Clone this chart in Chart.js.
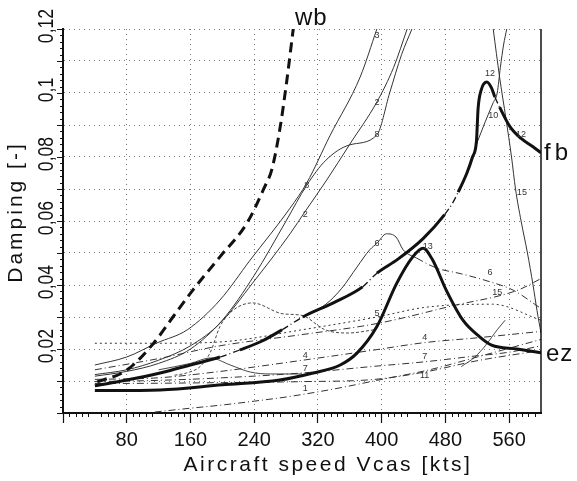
<!DOCTYPE html>
<html>
<head>
<meta charset="utf-8">
<script src="https://cdn.jsdelivr.net/npm/chart.js@4.4.0/dist/chart.umd.min.js"></script>
<style>
  html, body { margin: 0; padding: 0; background: #fff; }
</style>
</head>
<body>
<canvas id="chart" width="577" height="481"></canvas>
<script>
'use strict';

// axis labels
const xTickLabels = ['80', '160', '240', '320', '400', '480', '560'];
const yTickValues = [0.02, 0.04, 0.06, 0.08, 0.1, 0.12];
const yTickLabels = ['0,02', '0,04', '0,06', '0,08', '0,1', '0,12'];

// thick curves (speed in kts, damping)
const wbSpeed = [43, 80, 114, 138, 163, 197, 231, 253, 262, 272, 281, 289];
const wbDamp  = [0.0097, 0.0134, 0.0219, 0.030, 0.0384, 0.0488, 0.0594, 0.0706, 0.076, 0.0884, 0.104, 0.120];

const fbSpeed = [40, 80, 122, 160, 197, 222, 250, 275, 301, 340, 376, 394, 420, 452, 479, 489, 496, 507, 514, 519, 521, 525, 532, 538, 542, 548, 561, 575, 590, 600];
const fbDamp  = [0.0085, 0.0103, 0.0125, 0.015, 0.0175, 0.0197, 0.0225, 0.026, 0.030, 0.0345, 0.0394, 0.0437, 0.048, 0.0545, 0.062, 0.0656, 0.069, 0.075, 0.080, 0.085, 0.095, 0.101, 0.1034, 0.1015, 0.0988, 0.0956, 0.0895, 0.0858, 0.0832, 0.0813];

const ezSpeed = [40, 122, 200, 272, 314, 348, 369, 394, 419, 439, 452, 464, 481, 502, 523, 538, 570, 600];
const ezDamp  = [0.0070, 0.0072, 0.0088, 0.0103, 0.0125, 0.015, 0.0187, 0.027, 0.0406, 0.0488, 0.0515, 0.0478, 0.0384, 0.029, 0.0238, 0.0212, 0.0200, 0.0188];

// thin mode curves
const m3Speed = [40, 80, 118, 156, 197, 235, 285, 306, 335, 373, 394];
const m3Damp  = [0.015, 0.0175, 0.0219, 0.026, 0.0353, 0.0478, 0.064, 0.0719, 0.0866, 0.105, 0.12];

const m8Speed = [40, 80, 120, 160, 200, 240, 280, 306, 330, 360, 394, 410, 425, 438];
const m8Damp  = [0.0115, 0.013, 0.0155, 0.020, 0.029, 0.043, 0.060, 0.0712, 0.079, 0.0838, 0.0869, 0.100, 0.112, 0.12];

const m2Speed = [40, 80, 120, 160, 197, 238, 285, 304, 331, 360, 394, 415, 432];
const m2Damp  = [0.012, 0.0135, 0.0165, 0.021, 0.028, 0.0406, 0.056, 0.063, 0.0728, 0.084, 0.0972, 0.108, 0.12];

const m6Speed = [301, 330, 350, 369, 385, 394, 406, 418, 427, 444, 469, 500, 536, 565, 598];
const m6Damp  = [0.030, 0.034, 0.039, 0.0456, 0.051, 0.053, 0.056, 0.055, 0.051, 0.0484, 0.0453, 0.0435, 0.041, 0.0384, 0.033];

const m9Speed = [140, 155, 172, 185, 197, 213, 238, 276, 300, 329, 358, 391];
const m9Damp  = [0.0118, 0.0125, 0.0145, 0.019, 0.027, 0.032, 0.0344, 0.031, 0.0305, 0.026, 0.025, 0.026];

const mxSpeed = [120, 160, 185, 210, 235, 260, 300];
const mxDamp  = [0.0135, 0.0155, 0.0172, 0.015, 0.0128, 0.0122, 0.0122];

const m15Speed = [540, 548, 556, 563, 568, 575, 583, 590, 595, 600];
const m15Damp  = [0.12, 0.105, 0.092, 0.08, 0.07, 0.06, 0.05, 0.04, 0.032, 0.025];

const m10Speed = [519, 530, 540, 545, 549, 553, 557];
const m10Damp  = [0.084, 0.091, 0.097, 0.100, 0.108, 0.115, 0.12];

const m14Speed = [500, 517, 530, 545, 555];
const m14Damp  = [0.0145, 0.0175, 0.021, 0.026, 0.029];

const m1Speed = [115, 160, 200, 240, 280, 340, 400, 460, 520, 600];
const m1Damp  = [0.0003, 0.0015, 0.0025, 0.0037, 0.005, 0.0075, 0.0105, 0.0135, 0.0175, 0.023];

const m11Speed = [40, 120, 200, 300, 391, 454, 517, 560, 600];
const m11Damp  = [0.0092, 0.0093, 0.0095, 0.0098, 0.0105, 0.0128, 0.0162, 0.018, 0.0195];

const m7Speed = [40, 120, 200, 300, 391, 454, 517, 560, 600];
const m7Damp  = [0.0098, 0.0102, 0.011, 0.0125, 0.0146, 0.016, 0.0178, 0.019, 0.021];

const m4Speed = [40, 120, 191, 304, 391, 454, 520, 600];
const m4Damp  = [0.0105, 0.011, 0.0128, 0.0166, 0.0197, 0.022, 0.0235, 0.0255];

const m13Speed = [40, 120, 197, 300, 395, 489, 571, 600];
const m13Damp  = [0.0135, 0.017, 0.021, 0.0245, 0.028, 0.0335, 0.0384, 0.042];

const m5Speed = [40, 120, 197, 300, 394, 454, 539, 600];
const m5Damp  = [0.0218, 0.0218, 0.0222, 0.026, 0.030, 0.033, 0.034, 0.029];

// small mode numbers written on the curves
const modeLabels = [
    { t: '3', x: 394, y: 0.118 }, { t: '2', x: 394, y: 0.097 }, { t: '8', x: 394, y: 0.087 },
    { t: '8', x: 306, y: 0.071 }, { t: '2', x: 304, y: 0.062 }, { t: '6', x: 394, y: 0.053 },
    { t: '12', x: 536, y: 0.106 }, { t: '10', x: 540, y: 0.093 }, { t: '12', x: 575, y: 0.087 },
    { t: '15', x: 576, y: 0.069 }, { t: '13', x: 458, y: 0.052 }, { t: '6', x: 536, y: 0.044 },
    { t: '5', x: 394, y: 0.031 }, { t: '4', x: 304, y: 0.018 }, { t: '4', x: 454, y: 0.0235 },
    { t: '7', x: 454, y: 0.0175 }, { t: '11', x: 454, y: 0.0118 }, { t: '1', x: 304, y: 0.0075 },
    { t: '7', x: 304, y: 0.014 }, { t: '15', x: 545, y: 0.0375 }
];

const fbGaps = [[197, 222], [275, 301], [376, 394], [479, 496], [542, 548]];
const FONT = "'Liberation Sans', 'DejaVu Sans', sans-serif";

function pts(speed, damp) {
    return speed.map((s, i) => ({ x: s, y: damp[i] }));
}

function line(speed, damp, width, dash, extra) {
    return Object.assign({
        data: pts(speed, damp),
        showLine: true,
        pointRadius: 0,
        borderColor: width > 2 ? '#111' : '#333',
        borderWidth: width,
        borderDash: dash || [],
        cubicInterpolationMode: 'monotone',
        fill: false
    }, extra || {});
}

function inRange(ranges, a, b) {
    return ranges.some(r => a >= r[0] && b <= r[1]);
}

const DASHDOT = [7, 3, 1, 3];

const datasets = [
    line(wbSpeed, wbDamp, 3, [10, 6]),
    line(ezSpeed, ezDamp, 3),
    line(fbSpeed, fbDamp, 3, [], {
        segment: {
            borderDash: ctx => inRange(fbGaps, ctx.p0.parsed.x, ctx.p1.parsed.x) ? DASHDOT : undefined,
            borderWidth: ctx => inRange(fbGaps, ctx.p0.parsed.x, ctx.p1.parsed.x) ? 1.3 : undefined
        }
    }),
    line(m3Speed, m3Damp, 1),
    line(m8Speed, m8Damp, 1),
    line(m2Speed, m2Damp, 1),
    line(m6Speed, m6Damp, 1, [], {
        segment: {
            borderDash: ctx => ctx.p0.parsed.x >= 444 ? DASHDOT : undefined
        }
    }),
    line(m9Speed, m9Damp, 0.9, [3, 2]),
    line(mxSpeed, mxDamp, 0.9),
    line(m15Speed, m15Damp, 1),
    line(m10Speed, m10Damp, 1),
    line(m14Speed, m14Damp, 0.9),
    line(m1Speed, m1Damp, 1, DASHDOT),
    line(m11Speed, m11Damp, 1, DASHDOT),
    line(m7Speed, m7Damp, 1, DASHDOT),
    line(m4Speed, m4Damp, 1, DASHDOT),
    line(m13Speed, m13Damp, 1, DASHDOT),
    line(m5Speed, m5Damp, 1, [2, 3])
];

const paperPlugin = {
    id: 'paper',
    afterDraw(chart) {
        const ctx = chart.ctx;
        const xs = chart.scales.x;
        const ys = chart.scales.y;
        const area = chart.chartArea;
        ctx.save();
        ctx.strokeStyle = '#111';

        // right frame line
        ctx.lineWidth = 1.5;
        ctx.beginPath();
        ctx.moveTo(area.right, area.top);
        ctx.lineTo(area.right, area.bottom);
        ctx.stroke();

        // minor ticks
        ctx.lineWidth = 1;
        ctx.beginPath();
        for (let s = 0; s <= 600; s += 8) {
            if (s % 40 === 0) continue;
            const px = Math.round(xs.getPixelForValue(s)) + 0.5;
            ctx.moveTo(px, area.bottom);
            ctx.lineTo(px, area.bottom + 4);
        }
        for (let k = 0; k <= 60; k++) {
            const py = Math.round(ys.getPixelForValue(k * 0.002)) + 0.5;
            const len = k % 5 === 0 ? 6 : 3;
            ctx.moveTo(area.left - len, py);
            ctx.lineTo(area.left, py);
        }
        ctx.stroke();

        // y tick labels, rotated
        ctx.fillStyle = '#111';
        ctx.font = `22px ${FONT}`;
        ctx.textAlign = 'center';
        ctx.textBaseline = 'middle';
        yTickValues.forEach((v, i) => {
            ctx.save();
            ctx.translate(47, ys.getPixelForValue(v) - 3);
            ctx.rotate(-Math.PI / 2);
            ctx.scale(0.8, 1);
            ctx.fillText(yTickLabels[i], 0, 0);
            ctx.restore();
        });

        // axis titles
        ctx.font = `21px ${FONT}`;
        ctx.letterSpacing = '2.5px';
        ctx.fillText('Aircraft speed Vcas [kts]', 328, 465);
        ctx.save();
        ctx.translate(16, 212);
        ctx.rotate(-Math.PI / 2);
        ctx.letterSpacing = '3px';
        ctx.fillText('Damping [-]', 0, 0);
        ctx.restore();

        // curve names
        ctx.letterSpacing = '1px';
        ctx.font = `24px ${FONT}`;
        ctx.textAlign = 'left';
        ctx.textBaseline = 'alphabetic';
        ctx.fillText('wb', 295, 25);
        ctx.letterSpacing = '4px';
        ctx.fillText('fb', 544, 160);
        ctx.letterSpacing = '1px';
        ctx.fillText('ez', 546, 361);

        // mode numbers
        ctx.letterSpacing = '0px';
        ctx.font = `9px ${FONT}`;
        ctx.textAlign = 'center';
        ctx.textBaseline = 'middle';
        ctx.fillStyle = '#333';
        modeLabels.forEach(m => {
            ctx.fillText(m.t, xs.getPixelForValue(m.x), ys.getPixelForValue(m.y));
        });
        ctx.restore();
    }
};

new Chart(document.getElementById('chart'), {
    type: 'scatter',
    data: { datasets: datasets },
    options: {
        responsive: false,
        animation: false,
        layout: { padding: { top: 29, right: 36, left: 0, bottom: 0 } },
        plugins: {
            legend: { display: false },
            tooltip: { enabled: false }
        },
        scales: {
            x: {
                type: 'linear',
                min: 0,
                max: 600,
                afterFit: (scale) => { scale.height = 68; },
                ticks: {
                    stepSize: 40,
                    padding: 5,
                    color: '#111',
                    font: { family: FONT, size: 20 },
                    maxRotation: 0,
                    callback: (value) => {
                        const label = String(value);
                        return xTickLabels.includes(label) ? label : '';
                    }
                },
                grid: {
                    color: '#777',
                    lineWidth: 1,
                    drawTicks: true,
                    tickLength: 10,
                    tickColor: '#111',
                    tickWidth: 1.2,
                    tickBorderDash: []
                },
                border: { display: true, color: '#111', width: 2, dash: [1, 4] }
            },
            y: {
                type: 'linear',
                min: 0,
                max: 0.12,
                afterFit: (scale) => { scale.width = 63; },
                ticks: { stepSize: 0.01, display: false },
                grid: { color: '#777', lineWidth: 1, drawTicks: false },
                border: { display: true, color: '#111', width: 2, dash: [1, 4] }
            }
        }
    },
    plugins: [paperPlugin]
});
</script>
</body>
</html>
